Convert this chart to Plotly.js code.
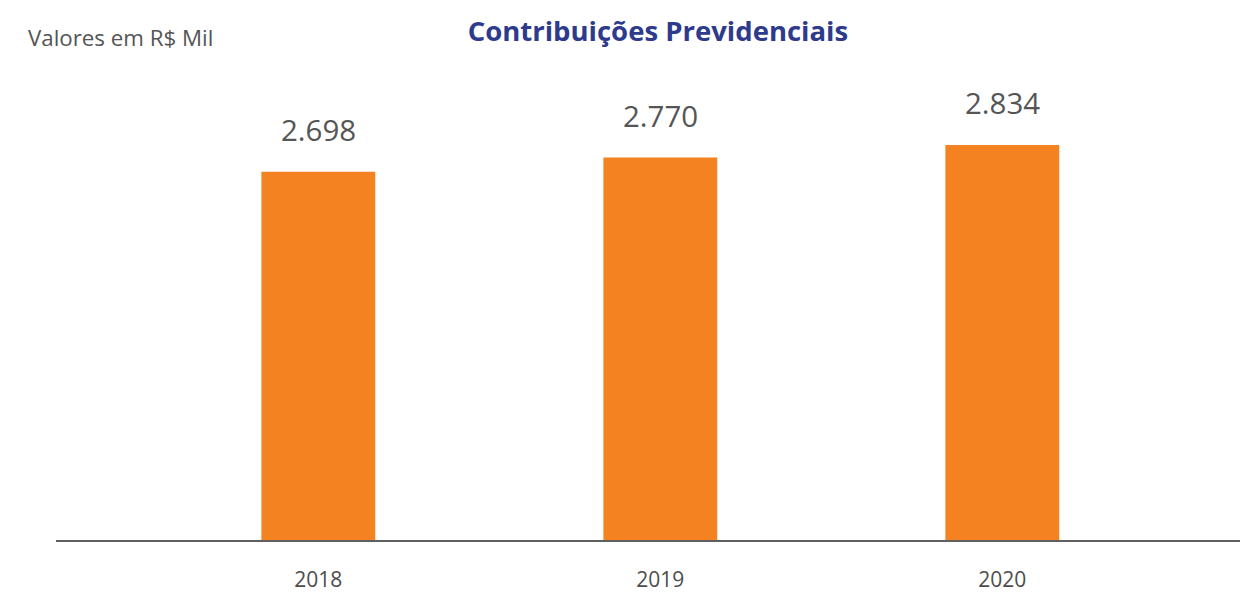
<!DOCTYPE html>
<html>
<head>
<meta charset="utf-8">
<script src="https://cdn.plot.ly/plotly-3.0.1.min.js"></script>
<style>html,body{margin:0;padding:0;background:#fff;}#chart{width:1240px;height:592px;}</style>
</head>
<body>
<div id="chart"></div>
<script>
const categories = ["2018", "2019", "2020"];
const values = [2698, 2770, 2834];
const valueLabels = ["2.698", "2.770", "2.834"];
const chartTitle = "Contribuições Previdenciais";
const unitNote = "Valores em R$ Mil";

const FONT = "Open Sans, Noto Sans, sans-serif";

const trace = {
  type: "bar",
  x: categories,
  y: values,
  width: 0.333,
  marker: {color: "#f58220", line: {width: 0}},
  hoverinfo: "skip"
};

const annotations = categories.map((c, i) => ({
  x: i, y: values[i], xref: "x", yref: "y",
  text: valueLabels[i], showarrow: false,
  yanchor: "bottom", yshift: 20,
  font: {family: FONT, size: 29.5, color: "#555555"}
}));
annotations.push({
  x: -0.0253, y: 1.046, xref: "paper", yref: "paper",
  xanchor: "left", yanchor: "middle",
  text: unitNote, showarrow: false,
  font: {family: FONT, size: 22.3, color: "#555555"}
});

const layout = {
  width: 1240, height: 592,
  margin: {l: 56, r: 0, t: 60, b: 52, pad: 0},
  paper_bgcolor: "#ffffff", plot_bgcolor: "#ffffff",
  showlegend: false,
  title: {
    text: "<b>" + chartTitle + "</b>",
    x: 0.5306, xref: "container", xanchor: "center",
    y: 0.947, yref: "container", yanchor: "middle",
    font: {family: FONT, size: 27.5, color: "#2e3a8c"}
  },
  xaxis: {
    type: "category",
    range: [-0.767, 2.695],
    showline: true, linecolor: "#5f5f5f", linewidth: 2,
    showgrid: false, zeroline: false,
    ticks: "outside", ticklen: 20, tickcolor: "rgba(0,0,0,0)",
    tickfont: {family: FONT, size: 21, color: "#4d4d4d"}
  },
  yaxis: {
    range: [822, 3267],
    visible: false, showgrid: false, zeroline: false
  },
  annotations: annotations
};

Plotly.newPlot("chart", [trace], layout, {staticPlot: true, displayModeBar: false});
</script>
</body>
</html>
